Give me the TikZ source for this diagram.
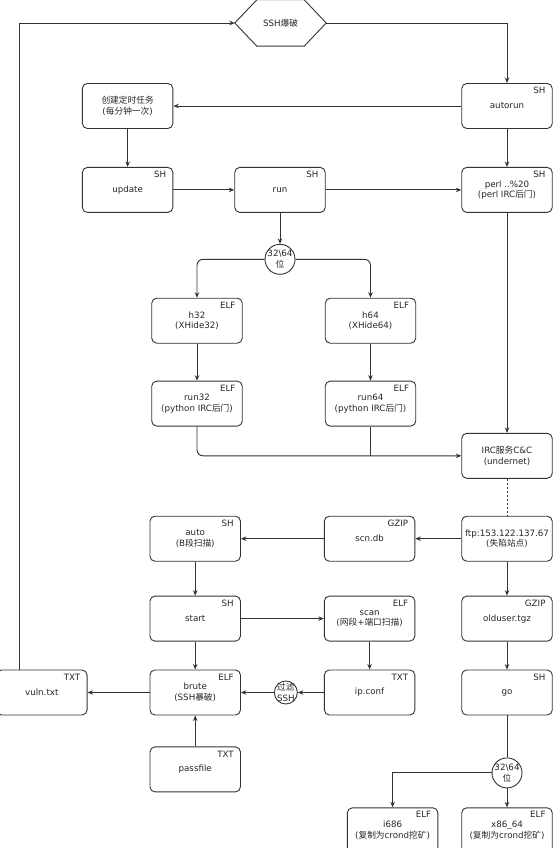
\documentclass[tikz,border=0pt]{standalone}
\usepackage{fontspec}
\setmainfont{DejaVu Sans}
\newfontfamily\cjk{Noto Sans CJK SC}
\newcommand{\zh}[1]{{\cjk #1}}
\usetikzlibrary{arrows.meta, positioning}

\begin{document}
\begin{tikzpicture}[
      x=1pt, y=1pt,
      node distance=38pt and 61pt,
      every node/.style={font=\fontsize{8.7}{10.5}\selectfont, text=black!85},
      box/.style={draw=black!80, line width=0.9pt, rounded corners=5pt, minimum width=90.5pt, minimum height=45pt, align=center, inner sep=1pt},
      tag/.style={anchor=north east, xshift=-6pt, yshift=-3pt, inner sep=1pt},
      shfile/.style={label={[tag]north east:SH}},
      elffile/.style={label={[tag]north east:ELF}},
      gzfile/.style={label={[tag]north east:GZIP}},
      txtfile/.style={label={[tag]north east:TXT}},
      bits/.style={draw=black!80, line width=0.9pt, circle, minimum size=30pt, inner sep=-3pt, align=center},
      filt/.style={draw=black!80, line width=0.9pt, circle, minimum size=23pt, inner sep=-3pt, align=center},
      line/.style={draw=black!80, line width=0.9pt},
      arr/.style={-{Stealth[length=5.5pt,width=4.5pt]}, line width=0.9pt, draw=black!80},
      dotline/.style={draw=black!80, line width=0.9pt, dash pattern=on 2pt off 2pt}
    ]
    \useasboundingbox (0,0) rectangle (553,-848);

    \node[minimum width=91pt, minimum height=46pt] (ssh) at (280.5,-23) {SSH\zh{爆破}};
    \draw[line] (ssh.west) -- ([xshift=22pt]ssh.north west) -- ([xshift=-22pt]ssh.north east)
      -- (ssh.east) -- ([xshift=-22pt]ssh.south east) -- ([xshift=22pt]ssh.south west) -- cycle;

    \node[box, shfile] (autorun) at (507,-106) {autorun};
    \node[box, shfile, below=of autorun] (perl) {perl ..\%20\\(perl IRC\zh{后门})};
    \node[box, left=288pt of autorun] (cron) {\zh{创建定时任务}\\(\zh{每分钟一次})};
    \node[box, shfile, below=of cron] (update) {update};
    \node[box, shfile, right=of update] (run) {run};
    \node[bits, below=31pt of run] (bitsA) {32\textbackslash 64\\\zh{位}};
    \node[box, elffile, below=23pt of bitsA, xshift=-83pt] (h32) {h32\\(XHide32)};
    \node[box, elffile, below=23pt of bitsA, xshift=90.5pt] (h64) {h64\\(XHide64)};
    \node[box, elffile, below=37pt of h32] (run32) {run32\\(python IRC\zh{后门})};
    \node[box, elffile, below=37pt of h64] (run64) {run64\\(python IRC\zh{后门})};
    \node[box, below=220pt of perl] (irc) {IRC\zh{服务}C\&C\\(undernet)};
    \node[box, below=37pt of irc] (ftp) {\makebox[86pt]{ftp:153.122.137.67}\\(\zh{失陷站点})};
    \node[box, gzfile, left=46pt of ftp] (scn) {scn.db};
    \node[box, shfile, left=83pt of scn] (auto) {auto\\(B\zh{段扫描})};
    \node[box, shfile, below=34pt of auto] (start) {start};
    \node[box, elffile, right=83pt of start] (scan) {scan\\(\zh{网段}+\zh{端口扫描})};
    \node[box, gzfile, below=34pt of ftp] (olduser) {olduser.tgz};
    \node[box, elffile, below=28pt of start] (brute) {brute\\(SSH\zh{暴破})};
    \node[box, txtfile, below=28pt of scan] (ipconf) {ip.conf};
    \node[box, shfile, below=28pt of olduser] (go) {go};
    \node[box, txtfile, left=62pt of brute] (vuln) {vuln.txt};
    \node[filt, right=33pt of brute] (filter) {\zh{过滤}\\SSH};
    \node[box, txtfile, below=31pt of brute] (passfile) {passfile};
    \node[bits, below=42pt of go] (bitsB) {32\textbackslash 64\\\zh{位}};
    \node[box, elffile, below=19pt of bitsB] (x86) {x86\_64\\(\zh{复制为}crond\zh{挖矿})};
    \node[box, elffile, left=23pt of x86] (i686) {i686\\(\zh{复制为}crond\zh{挖矿})};

    \draw[arr] ([xshift=-22.5pt]vuln.north) |- (ssh.west);
    \draw[arr] (ssh.east) -| (autorun.north);
    \draw[arr] (autorun) -- (cron);
    \draw[arr] (autorun) -- (perl);
    \draw[arr] (cron) -- (update);
    \draw[arr] (update) -- (run);
    \draw[arr] (run) -- (perl);
    \draw[arr] (run) -- (bitsA);
    \draw[arr, rounded corners=6pt] (bitsA.west) -| (h32.north);
    \draw[arr, rounded corners=6pt] (bitsA.east) -| (h64.north);
    \draw[arr] (h32) -- (run32);
    \draw[arr] (h64) -- (run64);
    \draw[arr, rounded corners=6pt] (run32.south) |- (irc.west);
    \draw[line] (run64.south) -- (run64.south |- irc.west);
    \draw[arr] (perl) -- (irc);
    \draw[dotline] (irc) -- (ftp);
    \draw[arr] (ftp) -- (scn);
    \draw[arr] (scn) -- (auto);
    \draw[arr] (ftp) -- (olduser);
    \draw[arr] (olduser) -- (go);
    \draw[arr] (auto) -- (start);
    \draw[arr] (start) -- (brute);
    \draw[arr] (start) -- (scan);
    \draw[arr] (scan) -- (ipconf);
    \draw[arr] (ipconf) -- (filter);
    \draw[arr] (filter) -- (brute);
    \draw[arr] (brute) -- (vuln);
    \draw[arr] (passfile) -- (brute);
    \draw[line] (go) -- (bitsB);
    \draw[arr] (bitsB) -- (x86);
    \draw[arr] (bitsB.west) -| (i686.north);
  \end{tikzpicture}
\end{document}
